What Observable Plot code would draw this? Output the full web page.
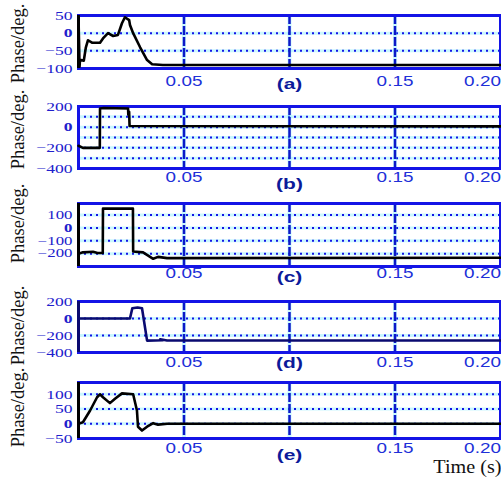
<!DOCTYPE html>
<html>
<head>
<meta charset="utf-8">
<script src="https://cdn.jsdelivr.net/npm/d3@7"></script>
<script src="https://cdn.jsdelivr.net/npm/@observablehq/plot@0.6"></script>
<style>
  html, body { margin: 0; padding: 0; background: #fff; overflow: hidden; }
  #wrap { position: relative; width: 501px; height: 477px; overflow: hidden; }
  #wrap svg { position: absolute; left: 0; overflow: visible; }
</style>
</head>
<body>
<div id="wrap"></div>
<script>
// ---- data (time in s, phase in degrees) ----
const tA = [0, 0.0005, 0.0007, 0.0025, 0.0035, 0.0045, 0.0064, 0.0102, 0.0116, 0.014, 0.0164, 0.0187, 0.0206, 0.022, 0.024, 0.0244, 0.0259, 0.0292, 0.0325, 0.0349, 0.04, 0.2];
const phaseA = [45, -95, -75, -78, -40, -20, -27, -27, -15, 0, -8, -5, 28, 45, 37, 23, 0, -40, -76, -88, -90, -90];

const tB = [0, 0.0021, 0.0101, 0.0102, 0.012, 0.0235, 0.0236, 0.024, 0.0242, 0.2];
const phaseB = [-180, -200, -200, 180, 185, 180, 120, 150, 12, 8];

const tC = [0, 0.0021, 0.0069, 0.009, 0.0115, 0.0116, 0.0258, 0.0259, 0.0306, 0.0354, 0.0377, 0.042, 0.2];
const phaseC = [-200, -190, -185, -195, -195, 150, 150, -183, -190, -240, -225, -235, -232];

const tD = [0, 0.0244, 0.0255, 0.028, 0.0301, 0.0325, 0.04, 0.0387, 0.042, 0.2];
const phaseD = [0, 0, 120, 130, 120, -260, -255, -245, -258, -258];

const tE = [0, 0.0021, 0.0055, 0.0088, 0.0102, 0.0116, 0.0149, 0.0173, 0.0206, 0.0259, 0.0277, 0.0282, 0.0301, 0.0325, 0.0354, 0.0377, 0.042, 0.2];
const phaseE = [0, 5, 45, 90, 100, 90, 70, 85, 103, 100, 45, -10, -23, -10, 2, -3, 0, 0];

const panelLetters = ["(a)", "(b)", "(c)", "(d)", "(e)"];
const xTickValues = [0.05, 0.15, 0.2];
const xGridValues = [0.05, 0.1, 0.15];
const yTicksA = [50, 0, -50, -100], yGridA = [0, -50];
const yTicksB = [200, 0, -200, -400], yGridB = [100, 0, -100, -200, -300];
const yTicksC = [100, 0, -100, -200], yGridC = [100, 0, -100, -200];
const yTicksD = [200, 0, -200, -400], yGridD = [0, -200];
const yTicksE = [100, 50, 0, -50], yGridE = [100, 50, 0];

// ---- layout ----
const panels = [
  {t: tA, v: phaseA, dom: [-100, 50], ticks: yTicksA, grid: yGridA, top: 15, bottom: 68, pad: 8, letterDy: 16, labelDy: 1.5, yFont: 13.5, color: "#000", left: "#000"},
  {t: tB, v: phaseB, dom: [-400, 200], ticks: yTicksB, grid: yGridB, top: 106, bottom: 168, pad: 3.5, letterDy: 15.5, labelDy: -8, yFont: 13.5, color: "#000", left: null},
  {t: tC, v: phaseC, dom: [-300, 190], ticks: yTicksC, grid: yGridC, top: 203, bottom: 266, pad: 2, letterDy: 11, labelDy: -11.5, yFont: 12, color: "#000", left: "#000"},
  {t: tD, v: phaseD, dom: [-400, 200], ticks: yTicksD, grid: yGridD, top: 301, bottom: 352, pad: 5, letterDy: 10.5, labelDy: -1.5, yFont: 13.5, color: "#0a0a70", left: "#0a0a70"},
  {t: tE, v: phaseE, dom: [-50, 140], ticks: yTicksE, grid: yGridE, top: 382, bottom: 438, pad: 5, letterDy: 16.5, labelDy: -3, yFont: 13.5, color: "#000", left: "#000"}
];

const blue = "#1414e6";
const wrap = document.getElementById("wrap");

panels.forEach((p, i) => {
  const mt = 4, mb = i === 4 ? 40 : 24;
  const data = p.t.map((t, k) => ({t, v: p.v[k]}));
  const marks = [
    Plot.ruleY(p.grid, {stroke: "#66e8ff", strokeWidth: 3, strokeOpacity: 0.35}),
    Plot.ruleY(p.grid, {stroke: blue, strokeWidth: 2, strokeDasharray: "2,4"}),
    Plot.ruleX(xGridValues, {stroke: "#66e8ff", strokeWidth: 4, strokeOpacity: 0.35}),
    Plot.ruleX(xGridValues, {stroke: "#0c18c8", strokeWidth: 2.5, strokeDasharray: "9,2"}),
    Plot.frame({stroke: blue, strokeWidth: 3})
  ];
  if (p.left) marks.push(Plot.ruleX([0], {stroke: p.left, strokeWidth: 3}));
  marks.push(
    Plot.line(data, {x: "t", y: "v", stroke: p.color, strokeWidth: 2.6}),
    Plot.axisY({ticks: p.ticks, tickSize: 0, tickPadding: 6, fontSize: p.yFont, fontFamily: "Liberation Serif, serif", fill: "#2020cc", label: null}),
    Plot.axisX({ticks: xTickValues, tickSize: 0, tickPadding: p.pad, tickFormat: d3.format(".2f"), fontSize: 14, fontFamily: "Liberation Sans, Arial, sans-serif", fill: "#2030d8", label: null}),
    Plot.text([panelLetters[i]], {x: () => 0.1, frameAnchor: "bottom", lineAnchor: "middle", dy: p.letterDy, text: d => d, fontSize: 15, fontWeight: "bold", fontFamily: "Liberation Sans, Arial, sans-serif", fill: "#0c1a9a"}),
    Plot.text(["Phase/deg."], {frameAnchor: "left", textAnchor: "middle", lineAnchor: "middle", dx: -60, dy: p.labelDy, rotate: -90, text: d => d, fontSize: 18.5, fontFamily: "Liberation Serif, serif", fill: "#111"})
  );
  if (i === 4) {
    marks.push(Plot.text(["Time (s)"], {frameAnchor: "bottom-right", textAnchor: "end", lineAnchor: "middle", dx: 1, dy: 29, text: d => d, fontSize: 18, fontFamily: "Liberation Serif, serif", fill: "#111"}));
  }
  const chart = Plot.plot({
    width: 501,
    height: mt + (p.bottom - p.top) + mb,
    marginLeft: 78,
    marginRight: 1,
    marginTop: mt,
    marginBottom: mb,
    style: {background: "transparent", overflow: "visible"},
    x: {domain: [0, 0.2]},
    y: {domain: p.dom},
    marks
  });
  // horizontally widen the texts like the reference's stretched raster
  chart.querySelectorAll("text").forEach(el => {
    const s = el.textContent;
    const g = el.closest("g");
    const role = g ? g.getAttribute("aria-label") : "";
    let tr = el.getAttribute("transform") || "";
    if (role === "y-axis tick label") {
      tr += i === 2 ? " scale(1.4,1)" : " scale(1.3,1)";
      if (s === "0") el.setAttribute("font-weight", "bold");
    } else if (role === "x-axis tick label") {
      if (s === "0.20") tr += " translate(-18,0)";
      tr += " scale(1.35,1)";
    } else if (panelLetters.includes(s)) {
      tr += " scale(1.4,1)";
    } else if (s === "Time (s)") {
      tr += " scale(1.12,1)";
    }
    el.setAttribute("transform", tr);
  });
  chart.style.top = (p.top - mt) + "px";
  wrap.appendChild(chart);
});
</script>
</body>
</html>
